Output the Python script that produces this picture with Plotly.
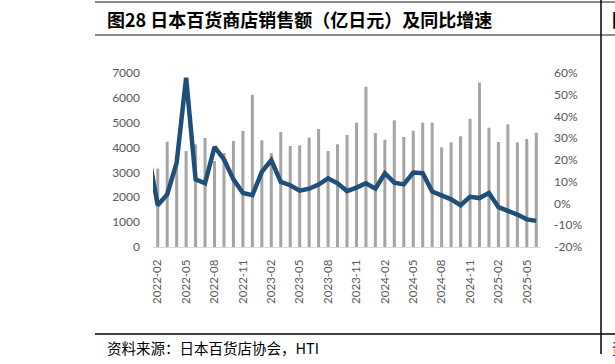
import pandas as pd
import plotly.graph_objects as go

# Categories: months 2022-01 .. 2025-06
months = [p.strftime("%Y-%m") for p in pd.period_range("2022-01", "2025-06", freq="M")]

# Department store sales (100 million yen); 2022-01 bar not shown
sales = [None,
         3150, 4236, 3400, 3860, 4130, 4385, 3460, 3780, 4264, 4666,
         6127, 4290, 3780, 4626, 4063, 4090, 4398, 4746, 3862, 4130,
         4505, 5000, 6448, 4586, 4317, 5095, 4425, 4680, 5000, 5000,
         4010, 4210, 4452, 5160, 6610, 4800, 4224, 4935, 4210, 4345, 4600]

# YoY growth (%)
yoy = [23, -0.8, 4.2, 18.8, 57.8, 11.1, 9.3, 26, 20.3, 11.1, 4.8,
       3.8, 14.5, 20, 9.9, 8.4, 5.9, 6.8, 8.7, 11.6, 9.3,
       5.7, 7.3, 9.3, 6.8, 13.9, 9.6, 8.8, 14.2, 13.9, 5.5,
       3.8, 1.9, -0.8, 3.1, 2.5, 4.8, -1.7, -3.3, -5.1, -7.3, -8]

tick_labels = ["2022-02", "2022-05", "2022-08", "2022-11", "2023-02", "2023-05",
               "2023-08", "2023-11", "2024-02", "2024-05", "2024-08", "2024-11",
               "2025-02", "2025-05"]
left_ticks = [0, 1000, 2000, 3000, 4000, 5000, 6000, 7000]
right_ticks = [-20, -10, 0, 10, 20, 30, 40, 50, 60]
right_tick_text = [f"{v}%" for v in right_ticks]

title_text = "图28 日本百货商店销售额（亿日元）及同比增速"
source_text = "资料来源：日本百货店协会，HTI"

W, H = 615, 364
L, R, T, B = 153, 74, 73, 117
pw, ph = W - L - R, H - T - B

def px(x):
    return (x - L) / pw

def py(y):
    return 1 - (y - T) / ph

fig = go.Figure()
fig.add_trace(go.Bar(x=months, y=sales, marker_color="#a5a5a5", marker_line_width=0,
                     yaxis="y", name="销售额"))
fig.add_trace(go.Scatter(x=months, y=yoy, mode="lines", yaxis="y2",
                         line=dict(color="#1f4e79", width=4.5), name="同比"))

tickfont = dict(family="Lato, Open Sans, sans-serif", size=12, color="#595959")

fig.update_layout(
    width=W, height=H,
    margin=dict(l=L, r=R, t=T, b=B, pad=0),
    paper_bgcolor="white", plot_bgcolor="white",
    showlegend=False,
    bargap=0.68,
    xaxis=dict(type="category", range=[0.5, len(months) - 0.5],
               tickmode="array", tickvals=tick_labels, ticktext=tick_labels,
               tickangle=-90, tickfont=dict(family="Lato, Open Sans, sans-serif", size=11.5, color="#595959"),
               showgrid=False, showline=True, linecolor="#d9d9d9", linewidth=1,
               ticks="", ticklabelstandoff=7, zeroline=False),
    yaxis=dict(range=[0, 7000], tickmode="array", tickvals=left_ticks, showgrid=False, zeroline=False,
               tickfont=tickfont, ticks="", ticklabelstandoff=12, showline=False),
    yaxis2=dict(range=[-20, 60], tickmode="array", tickvals=right_ticks, ticktext=right_tick_text,
                overlaying="y", side="right", showgrid=False, zeroline=False, tickfont=tickfont,
                ticks="", ticklabelstandoff=12, showline=False),
)

# frame lines
fig.add_shape(type="line", xref="paper", yref="paper", x0=px(95), x1=px(615),
              y0=py(2), y1=py(2), line=dict(color="#8c8c8c", width=2), layer="above")
fig.add_shape(type="line", xref="paper", yref="paper", x0=px(95), x1=px(615),
              y0=py(35), y1=py(35), line=dict(color="#8c8c8c", width=2), layer="above")
fig.add_shape(type="line", xref="paper", yref="paper", x0=px(95), x1=px(615),
              y0=py(334), y1=py(334), line=dict(color="#000000", width=1.5), layer="above")
fig.add_shape(type="line", xref="paper", yref="paper", x0=px(601), x1=px(601),
              y0=py(0), y1=py(354), line=dict(color="#000000", width=1.5), layer="above")

fig.add_annotation(text="<b>" + title_text + "</b>", xref="paper", yref="paper",
                   x=px(105), y=py(19), xanchor="left", yanchor="middle", showarrow=False,
                   font=dict(family="Noto Sans CJK SC", size=18, color="#000000"))
fig.add_annotation(text="<b>图</b>", xref="paper", yref="paper",
                   x=px(610), y=py(19), xanchor="left", yanchor="middle", showarrow=False,
                   font=dict(family="Noto Sans CJK SC", size=18, color="#000000"))
fig.add_annotation(text=source_text, xref="paper", yref="paper",
                   x=px(105), y=py(347), xanchor="left", yanchor="middle", showarrow=False,
                   font=dict(family="Noto Sans CJK SC", size=14.5, color="#000000"))
fig.add_annotation(text="资", xref="paper", yref="paper",
                   x=px(610), y=py(347), xanchor="left", yanchor="middle", showarrow=False,
                   font=dict(family="Noto Sans CJK SC", size=14.5, color="#000000"))

fig.write_html("out.html", config={"displayModeBar": False},
               post_script="document.body.style.margin='0px';document.body.style.overflow='hidden';")
